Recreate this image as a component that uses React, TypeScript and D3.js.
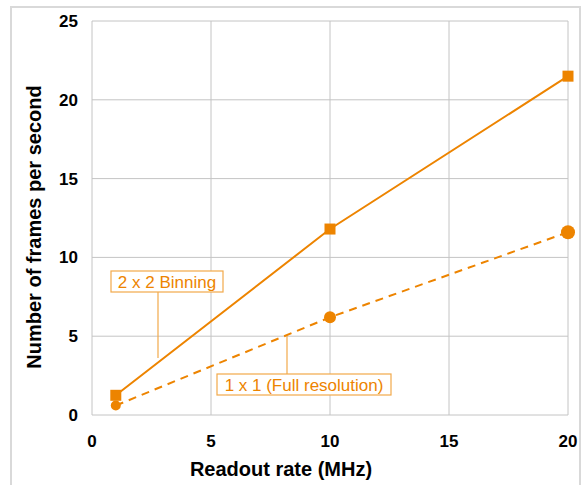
import { useEffect, useRef } from "react";
import * as d3 from "d3";

// readout rate (MHz)
const rates = [1, 10, 20];
// frames per second
const binning2x2 = [1.25, 11.8, 21.5];
const fullRes1x1 = [0.6, 6.2, 11.6];
const xTicks = [0, 5, 10, 15, 20];
const yTicks = [0, 5, 10, 15, 20, 25];

const ORANGE = "#ED8400";
const FONT = "'Liberation Sans', Arial, sans-serif";

export default function App() {
  const svgRef = useRef<SVGSVGElement>(null);
  const width = 584;
  const height = 485;

  useEffect(() => {
    if (!svgRef.current) return;
    const svg = d3.select(svgRef.current);
    svg.selectAll("*").remove();

    // outer frame
    svg
      .append("rect")
      .attr("x", 11)
      .attr("y", 7)
      .attr("width", 569)
      .attr("height", 490)
      .attr("fill", "#fff")
      .attr("stroke", "#d9d9d9")
      .attr("stroke-width", 2);

    const x = d3.scaleLinear().domain([0, 20]).range([92, 568]);
    const y = d3.scaleLinear().domain([0, 25]).range([415, 21]);

    // grid
    xTicks.forEach((t) => {
      svg
        .append("line")
        .attr("x1", x(t))
        .attr("x2", x(t))
        .attr("y1", y(0))
        .attr("y2", y(25))
        .attr("stroke", "#c4c4c4")
        .attr("stroke-width", 1);
    });
    yTicks.forEach((t) => {
      svg
        .append("line")
        .attr("x1", x(0))
        .attr("x2", x(20))
        .attr("y1", y(t))
        .attr("y2", y(t))
        .attr("stroke", "#c4c4c4")
        .attr("stroke-width", 1);
    });

    // tick labels
    svg
      .selectAll(".xt")
      .data(xTicks)
      .enter()
      .append("text")
      .attr("x", (d) => x(d))
      .attr("y", 447)
      .attr("text-anchor", "middle")
      .attr("font-family", FONT)
      .attr("font-size", 17)
      .attr("font-weight", "bold")
      .attr("fill", "#000")
      .text((d) => d);

    svg
      .selectAll(".yt")
      .data(yTicks)
      .enter()
      .append("text")
      .attr("x", 78)
      .attr("y", (d) => y(d) + 6)
      .attr("text-anchor", "end")
      .attr("font-family", FONT)
      .attr("font-size", 17)
      .attr("font-weight", "bold")
      .attr("fill", "#000")
      .text((d) => d);

    // axis titles
    svg
      .append("text")
      .attr("x", 281)
      .attr("y", 476)
      .attr("text-anchor", "middle")
      .attr("font-family", FONT)
      .attr("font-size", 20)
      .attr("font-weight", "bold")
      .text("Readout rate (MHz)");

    svg
      .append("text")
      .attr("transform", `translate(41, 227) rotate(-90)`)
      .attr("text-anchor", "middle")
      .attr("font-family", FONT)
      .attr("font-size", 20)
      .attr("font-weight", "bold")
      .text("Number of frames per second");

    const line = d3
      .line<number>()
      .x((_, i) => x(rates[i]))
      .y((d) => y(d));

    // 1 x 1 full resolution (dashed)
    svg
      .append("path")
      .datum(fullRes1x1)
      .attr("d", line)
      .attr("fill", "none")
      .attr("stroke", ORANGE)
      .attr("stroke-width", 2)
      .attr("stroke-dasharray", "8,6");

    // 2 x 2 binning (solid)
    svg
      .append("path")
      .datum(binning2x2)
      .attr("d", line)
      .attr("fill", "none")
      .attr("stroke", ORANGE)
      .attr("stroke-width", 2);

    const circleR = [5, 6, 7];
    fullRes1x1.forEach((d, i) => {
      svg
        .append("circle")
        .attr("cx", x(rates[i]))
        .attr("cy", y(d))
        .attr("r", circleR[i])
        .attr("fill", ORANGE);
    });

    binning2x2.forEach((d, i) => {
      svg
        .append("rect")
        .attr("x", x(rates[i]) - 5.5)
        .attr("y", y(d) - 5.5)
        .attr("width", 11)
        .attr("height", 11)
        .attr("fill", ORANGE);
    });

    // annotations
    const callout = (
      label: string,
      bx: number,
      by: number,
      bw: number,
      lx: number,
      ly1: number,
      ly2: number
    ) => {
      svg
        .append("line")
        .attr("x1", lx)
        .attr("x2", lx)
        .attr("y1", ly1)
        .attr("y2", ly2)
        .attr("stroke", "#f2a94a")
        .attr("stroke-width", 1.2);
      svg
        .append("rect")
        .attr("x", bx)
        .attr("y", by)
        .attr("width", bw)
        .attr("height", 21)
        .attr("fill", "#fff")
        .attr("stroke", "#f2a94a")
        .attr("stroke-width", 1.2);
      svg
        .append("text")
        .attr("x", bx + bw / 2)
        .attr("y", by + 16.5)
        .attr("text-anchor", "middle")
        .attr("font-family", FONT)
        .attr("font-size", 17)
        .attr("fill", ORANGE)
        .text(label);
    };

    callout("2 x 2 Binning", 111, 271, 112, 158, 292, 358);
    callout("1 x 1 (Full resolution)", 217, 374, 174, 287, 336, 374);
  }, []);

  return (
    <svg
      ref={svgRef}
      width={width}
      height={height}
      style={{ position: "absolute", left: 0, top: 0, background: "#fff" }}
    ></svg>
  );
}
